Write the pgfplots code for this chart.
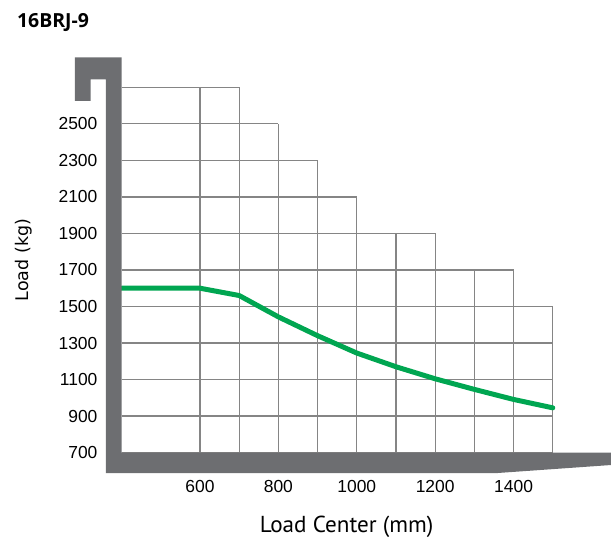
\documentclass[border=0pt]{standalone}
\usepackage{fontspec}
\setmainfont{Liberation Sans}
\newfontfamily\titlefont{Open Sans}
\newfontfamily\xlabfont{PT Sans}
\newfontfamily\ylabfont{DejaVu Sans}
\usepackage{pgfplots}
\pgfplotsset{compat=1.18}

\definecolor{forkgray}{HTML}{6D6E71}
\definecolor{gridgray}{HTML}{858585}
\definecolor{loadgreen}{HTML}{00A651}

\begin{document}
\begin{tikzpicture}
\begin{axis}[
  scale only axis,
  width=431.2bp, height=365.3bp,
  xmin=400, xmax=1500,
  ymin=700, ymax=2700,
  clip=false,
  axis line style={draw=none},
  major tick length=0pt,
  scaled ticks=false,
  /pgf/number format/1000 sep={},
  /pgf/number format/assume math mode=true,
  xtick={600,800,...,1400},
  ytick={700,900,...,2500},
  tick label style={font=\fontsize{17.5}{20}\selectfont, inner sep=0pt},
  xticklabel style={anchor=base, yshift=-40.1bp},
  yticklabel style={anchor=east, xshift=-24bp},
  xlabel={Load Center (mm)},
  xlabel style={font=\xlabfont\fontsize{23.2}{26}\selectfont, inner sep=0pt,
    anchor=base, at={(rel axis cs:0.5218,-0.2174)}},
  ylabel={Load (kg)},
  ylabel style={font=\ylabfont\fontsize{17.5}{20}\selectfont, inner sep=0pt,
    rotate=0, anchor=base, at={(rel axis cs:-0.2150,0.527)}},
  unbounded coords=jump,
]

% staircase grid
\addplot[gridgray, line width=1.3bp, forget plot] coordinates {
 (400,700)(1500,700) (1500,nan)
 (400,900)(1500,900) (1500,nan)
 (400,1100)(1500,1100) (1500,nan)
 (400,1300)(1500,1300) (1500,nan)
 (400,1500)(1500,1500) (1500,nan)
 (400,1700)(1400,1700) (1400,nan)
 (400,1900)(1200,1900) (1200,nan)
 (400,2100)(1000,2100) (1000,nan)
 (400,2300)(900,2300) (900,nan)
 (400,2500)(800,2500) (800,nan)
 (400,2700)(700,2700) (700,nan)
 (600,700)(600,2700) (600,nan)
 (700,700)(700,2700) (700,nan)
 (800,700)(800,2500) (800,nan)
 (900,700)(900,2300) (900,nan)
 (1000,700)(1000,2100) (1000,nan)
 (1100,700)(1100,1900) (1100,nan)
 (1200,700)(1200,1900) (1200,nan)
 (1300,700)(1300,1700) (1300,nan)
 (1400,700)(1400,1700) (1400,nan)
 (1500,700)(1500,1500)
};

% load curve
\addplot[loadgreen, line width=5bp, line cap=round, line join=round] coordinates {
 (400,1600) (600,1600) (700,1560) (800,1443) (900,1340) (1000,1245)
 (1100,1170) (1200,1104) (1300,1046) (1400,991) (1500,945)
};

% fork outline
\addplot[fill=forkgray, draw=none, forget plot] coordinates {
 (281,2864) (400,2864) (400,700) (1648.5,700) (1648.5,632)
 (1358,588) (360,588) (360,2744) (321,2744) (321,2625) (281,2625)
} -- cycle;

\node[anchor=base west, inner sep=0pt, font=\titlefont\bfseries\fontsize{19.5}{22}\selectfont]
  at (axis cs:133,3025) {16BRJ-9};

\coordinate (bl) at (axis cs:89.8,221.5);
\coordinate (tr) at (axis cs:1648.5,3178);
\end{axis}
\pgfresetboundingbox
\path[use as bounding box] (bl) rectangle (tr);
\end{tikzpicture}
\end{document}
